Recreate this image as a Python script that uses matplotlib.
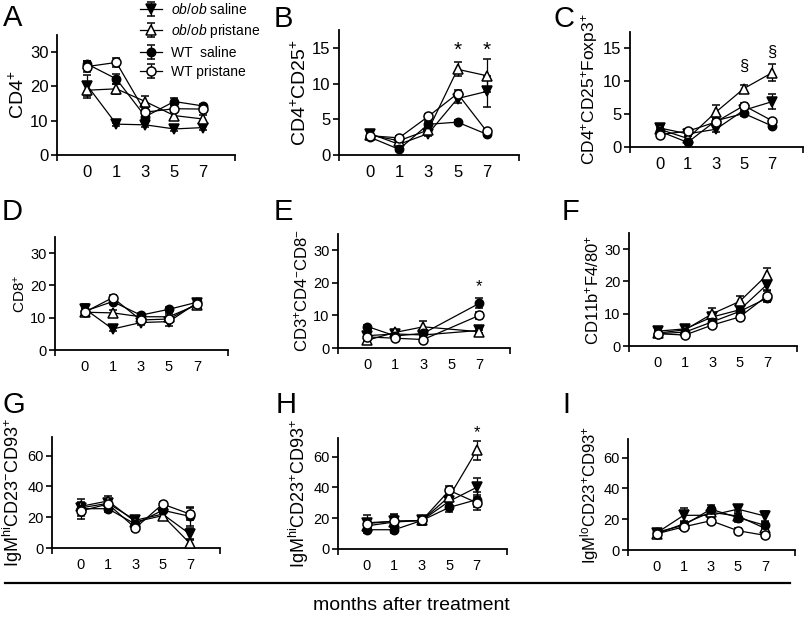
import numpy as np
import matplotlib
matplotlib.use('Agg')
import matplotlib.pyplot as plt
from matplotlib.lines import Line2D

plt.rcParams['font.family'] = ['Liberation Sans', 'DejaVu Sans']
plt.rcParams['mathtext.fontset'] = 'custom'
plt.rcParams['mathtext.rm'] = 'Liberation Sans'
plt.rcParams['mathtext.it'] = 'Liberation Sans:italic'
plt.rcParams['mathtext.default'] = 'regular'

months = ['0', '1', '3', '5', '7']
nan = np.nan

# rows: ob/ob saline, ob/ob pristane, WT saline, WT pristane
cd4 = [[20.2, 9.0, 8.8, 7.6, 8.0],
       [18.9, 19.3, 15.6, 11.5, 10.5],
       [26.5, 22.2, 11.2, 15.6, 14.3],
       [25.8, 27.0, 12.5, 13.5, 13.4]]
cd4_err = [[3.0, 0.4, 0.5, 0.5, 0.8],
           [2.2, 1.5, 1.6, 1.0, 1.2],
           [1.0, 1.5, 0.6, 1.0, 0.6],
           [1.5, 1.2, 0.8, 1.0, 0.8]]

cd25 = [[3.0, 1.5, 3.0, 7.9, 8.9],
        [2.8, 2.0, 3.5, 12.0, 11.1],
        [2.5, 0.8, 4.3, 4.6, 2.9],
        [2.7, 2.4, 5.4, 8.6, 3.3]]
cd25_err = [[0.3, 0.4, 0.4, 0.6, 2.2],
            [0.3, 0.3, 0.4, 1.0, 2.3],
            [0.3, 0.3, 0.5, 0.3, 0.3],
            [0.3, 0.3, 0.4, 0.5, 0.4]]

foxp3 = [[2.9, 2.0, 2.7, 5.6, 6.9],
         [2.7, 1.3, 5.3, 8.9, 11.3],
         [2.4, 0.7, 4.0, 5.1, 3.2],
         [1.9, 2.4, 3.8, 6.3, 4.0]]
foxp3_err = [[0.3, 0.3, 0.4, 0.5, 1.1],
             [0.3, 0.3, 1.1, 0.6, 1.3],
             [0.3, 0.3, 0.4, 0.4, 0.3],
             [0.3, 0.3, 0.4, 0.4, 0.3]]

cd8 = [[12.8, 6.5, 8.5, 8.8, 14.6],
       [11.7, 11.5, 10.3, 10.3, 14.0],
       [12.0, 15.0, 10.8, 12.6, 14.8],
       [11.7, 16.2, 9.3, 9.6, 14.3]]
cd8_err = [[1.5, 0.6, 0.8, 1.5, 1.3],
           [1.0, 1.0, 0.8, 1.0, 1.2],
           [0.8, 0.8, 0.7, 0.7, 1.0],
           [1.0, 0.8, 0.8, 0.8, 1.0]]

dn = [[3.8, 4.3, 4.0, nan, 5.4],
      [2.4, 4.8, 6.5, nan, 5.0],
      [6.6, 3.7, 4.5, nan, 13.7],
      [3.4, 3.0, 2.6, nan, 10.0]]
dn_err = [[0.8, 0.8, 0.8, nan, 0.7],
          [0.8, 0.8, 1.8, nan, 0.6],
          [0.6, 0.8, 0.8, nan, 1.5],
          [0.6, 0.6, 0.6, nan, 1.0]]

mac = [[4.6, 5.3, 9.0, 11.2, 19.0],
       [4.0, 5.0, 10.0, 13.8, 22.0],
       [3.8, 4.3, 7.5, 10.7, 14.8],
       [3.8, 3.4, 6.5, 9.0, 15.5]]
mac_err = [[1.2, 0.8, 1.2, 1.2, 1.8],
           [0.8, 0.8, 1.8, 1.8, 2.2],
           [0.8, 0.6, 0.8, 1.0, 1.3],
           [0.6, 0.5, 0.8, 1.0, 1.5]]

t1 = [[26.0, 29.0, 18.0, 22.0, 9.0],
      [27.0, 30.5, 17.0, 21.0, 3.0],
      [25.5, 25.5, 15.5, 24.5, 20.5],
      [24.0, 28.5, 13.0, 28.5, 22.0]]
t1_err = [[3.0, 2.5, 2.0, 2.0, 4.0],
          [3.0, 3.0, 2.0, 2.0, 3.0],
          [6.5, 2.0, 2.0, 2.0, 6.0],
          [3.0, 2.0, 2.0, 1.5, 4.0]]

t2 = [[17.0, 18.0, 18.5, 31.0, 40.0],
      [15.0, 17.5, 18.5, 34.0, 64.0],
      [12.5, 12.5, 18.5, 27.0, 32.0],
      [16.5, 18.0, 18.5, 38.0, 30.0]]
t2_err = [[5.0, 4.0, 3.0, 3.0, 6.0],
          [3.0, 5.0, 2.0, 3.0, 6.0],
          [2.0, 2.0, 3.0, 3.0, 5.0],
          [3.0, 3.0, 2.0, 3.0, 5.0]]

t3 = [[11.0, 22.5, 22.5, 26.5, 22.0],
      [10.5, 17.0, 24.5, 22.0, 14.0],
      [11.5, 16.0, 26.5, 21.0, 16.0],
      [10.5, 15.0, 19.0, 12.5, 9.5]]
t3_err = [[1.5, 4.5, 3.0, 3.0, 3.0],
          [1.0, 2.0, 3.0, 3.0, 2.0],
          [1.5, 2.0, 3.0, 3.0, 2.0],
          [1.0, 2.0, 2.0, 1.5, 1.5]]

groups = [r'$\mathit{ob/ob}$ saline', r'$\mathit{ob/ob}$ pristane', 'WT  saline', 'WT pristane']
markers = ['v', '^', 'o', 'o']
faces = ['black', 'white', 'black', 'white']
msizes = [6.5, 6.5, 6, 6.5]

W, H = 805, 620
fig = plt.figure(figsize=(W / 100, H / 100), dpi=100)

# panel: (letter, data, err, ylabel, ylim, yticks, box px (left, right, top, bottom), tick fs, label fs, letter xy)
panels = [
    ('A', cd4, cd4_err, r'CD4$^{+}$', 35, [0, 10, 20, 30], (57, 235, 35, 155), 12, 14, (3, 26)),
    ('B', cd25, cd25_err, r'CD4$^{+}$CD25$^{+}$', 17.5, [0, 5, 10, 15], (339, 519, 30, 155), 12, 14, (274, 27)),
    ('C', foxp3, foxp3_err, r'CD4$^{+}$CD25$^{+}$Foxp3$^{+}$', 17.5, [0, 5, 10, 15], (630, 803, 32, 147), 12, 12.5, (553, 27)),
    ('D', cd8, cd8_err, r'CD8$^{+}$', 35, [0, 10, 20, 30], (55, 228, 237, 350), 10.5, 11, (2, 220)),
    ('E', dn, dn_err, r'CD3$^{+}$CD4$^{-}$CD8$^{-}$', 35, [0, 10, 20, 30], (338, 510, 234, 348), 10.5, 12, (274, 220)),
    ('F', mac, mac_err, r'CD11b$^{+}$F4/80$^{+}$', 35, [0, 10, 20, 30], (629, 797, 233, 346), 10.5, 12, (562, 220)),
    ('G', t1, t1_err, r'IgM$^{hi}$CD23$^{-}$CD93$^{+}$', 72, [0, 20, 40, 60], (52, 220, 437, 548), 10.5, 13, (2, 413)),
    ('H', t2, t2_err, r'IgM$^{hi}$CD23$^{+}$CD93$^{+}$', 72, [0, 20, 40, 60], (338, 507, 438, 549), 10.5, 13, (276, 413)),
    ('I', t3, t3_err, r'IgM$^{lo}$CD23$^{+}$CD93$^{+}$', 72, [0, 20, 40, 60], (628, 795, 439, 550), 10.5, 12, (562, 413)),
]

axes = {}
x = np.arange(len(months))
for letter, data, err, ylab, ytop, yt, box, tfs, lfs, lxy in panels:
    l, r, t, b = box
    ax = fig.add_axes([l / W, 1 - b / H, (r - l) / W, (b - t) / H])
    axes[letter] = ax
    for i in range(4):
        y = np.array(data[i], dtype=float)
        e = np.array(err[i], dtype=float)
        ok = ~np.isnan(y)
        ax.errorbar(x[ok], y[ok], yerr=e[ok], color='black', lw=0.9, elinewidth=0.9,
                    capsize=3, capthick=0.9, marker=markers[i], ms=msizes[i],
                    mfc=faces[i], mec='black', mew=1.1, label=groups[i], clip_on=False,
                    zorder=3 + i)
    ax.set_xlim(-1.05, 5.1)
    ax.set_ylim(0, ytop)
    ax.set_yticks(yt)
    ax.set_xticks(x)
    ax.set_xticklabels(months)
    ax.set_xticks([-1.05, 5.1], minor=True)
    ax.tick_params(axis='x', which='major', length=0, pad=7, labelsize=tfs)
    ax.tick_params(axis='x', which='minor', length=4, width=1.2, direction='out')
    ax.tick_params(axis='y', length=4, width=1.2, direction='out', pad=2, labelsize=tfs)
    for s in ['top', 'right']:
        ax.spines[s].set_visible(False)
    for s in ['left', 'bottom']:
        ax.spines[s].set_linewidth(1.3)
    ax.set_ylabel(ylab, fontsize=lfs, labelpad=2)
    fig.text(lxy[0] / W, 1 - lxy[1] / H, letter, fontsize=21, va='baseline', ha='left')

# significance marks
axes['B'].text(3, 14.6, '*', ha='center', va='center', fontsize=15)
axes['B'].text(4, 14.6, '*', ha='center', va='center', fontsize=15)
axes['C'].text(3, 12.2, '§', ha='center', va='center', fontsize=12)
axes['C'].text(4, 14.4, '§', ha='center', va='center', fontsize=12)
axes['E'].text(4, 18.8, '*', ha='center', va='center', fontsize=12)
axes['H'].text(4, 75.5, '*', ha='center', va='center', fontsize=12)

# legend
handles, labels = axes['A'].get_legend_handles_labels()
fig.legend(handles, labels, loc='upper left', bbox_to_anchor=(140 / W, 1 - 2 / H),
           frameon=False, fontsize=10, handlelength=1.6, handletextpad=0.6,
           labelspacing=0.38, borderpad=0, borderaxespad=0)

# common x label
fig.add_artist(Line2D([5 / W, 790 / W], [1 - 583 / H, 1 - 583 / H], color='black', lw=1.6))
fig.text(411 / W, 1 - 605 / H, 'months after treatment', ha='center', va='center', fontsize=14)

fig.savefig('out.png', dpi=100)
